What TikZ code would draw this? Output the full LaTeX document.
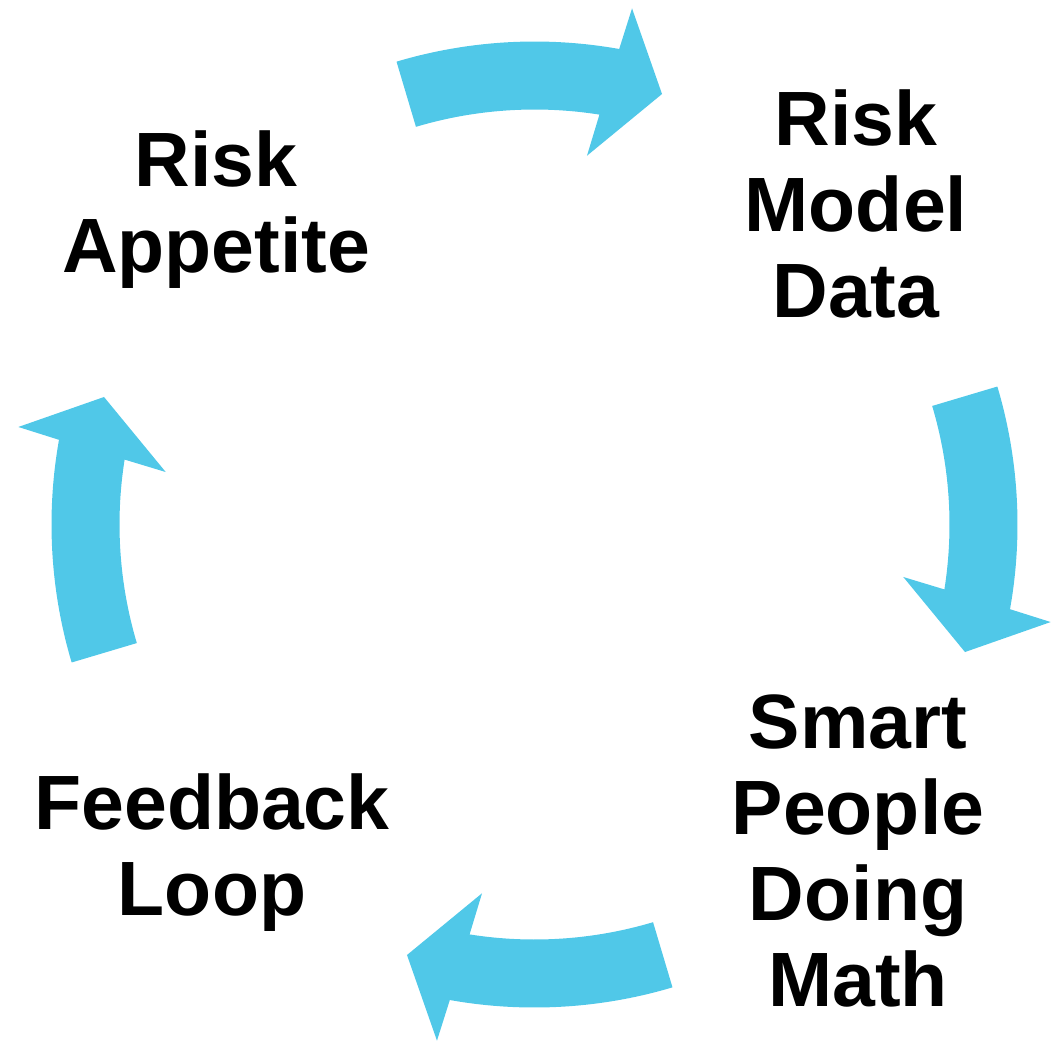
\documentclass[tikz,border=0pt]{standalone}
\usepackage{fontspec}
\setmainfont{Liberation Sans}
\definecolor{cyclecol}{RGB}{80,200,232}
\tikzset{
  cyclearrow/.style={fill=cyclecol, draw=none},
  lbl/.style={font={\fontsize{77}{86}\selectfont\bfseries}, align=center, anchor=base, inner sep=0pt, text=black}
}
\begin{document}
\begin{tikzpicture}[x=1pt,y=1pt]
\useasboundingbox (0,0) rectangle (1057,-1045);
\coordinate (C) at (534.5,-524.5);
\foreach \k in {0,1,2,3}{
  \begin{scope}[shift={(C)}, rotate=-90*\k]
    \fill[cyclearrow] (106.6:483) arc[start angle=106.6, end angle=79.9, radius=483]
      -- (79.3:525.3) -- (73.5:449) -- (81.9:372.5) -- (81.0:415)
      arc[start angle=81.0, end angle=106.6, radius=415] -- cycle;
  \end{scope}
}
% base anchor = baseline of the last line
\node[lbl] (appetite) at (216,-272) {Risk\\Appetite};
\node[lbl] (model) at (856,-317.5) {Risk\\Model\\Data};
\node[lbl] (math) at (858,-1006) {Smart\\People\\Doing\\Math};
\node[lbl] (feedback) at (212,-915) {Feedback\\Loop};
\end{tikzpicture}
\end{document}
